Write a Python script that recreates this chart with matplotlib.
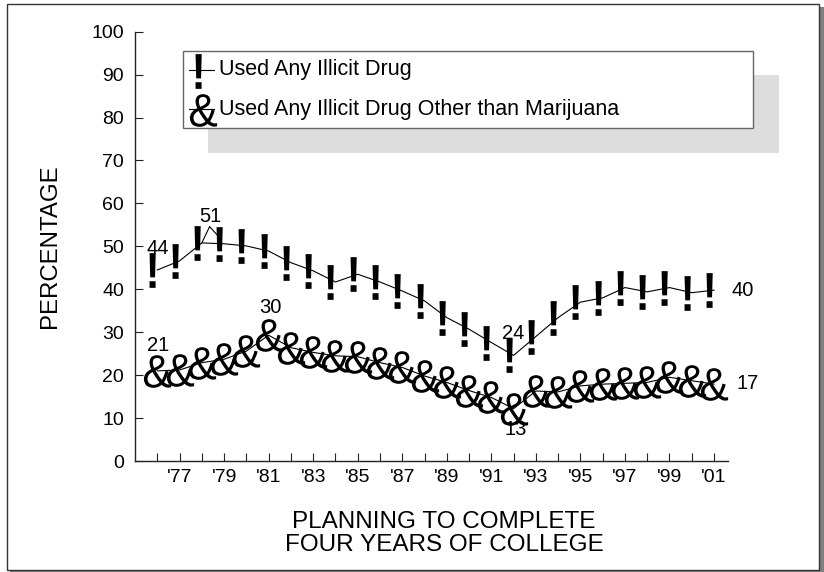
import numpy as np
import matplotlib
matplotlib.use("Agg")
import matplotlib.pyplot as plt
from matplotlib.patches import Rectangle
from matplotlib.lines import Line2D
from matplotlib.textpath import TextPath
from matplotlib.path import Path
from matplotlib.font_manager import FontProperties

plt.rcParams['font.family'] = ['Liberation Sans', 'DejaVu Sans']

# ---------------- data ----------------
years = list(range(1976, 2002))
any_illicit = [44.5, 46.6, 50.8, 50.6, 50.1, 48.9, 46.2, 44.3, 41.7, 43.5,
               41.7, 39.6, 37.3, 33.4, 30.7, 27.6, 24.6, 29.0, 33.4, 37.0,
               38.0, 40.4, 39.4, 40.4, 39.2, 39.8]
other_than_mj = [21.0, 21.2, 22.9, 23.7, 25.6, 29.3, 26.4, 25.3, 24.5, 24.3,
                 22.9, 21.8, 19.8, 18.3, 16.4, 14.8, 12.2, 16.3, 16.1, 17.5,
                 17.9, 18.1, 18.3, 19.5, 18.7, 17.9]
series_names = ["Used Any Illicit Drug",
                "Used Any Illicit Drug Other than Marijuana"]
tick_years = list(range(1977, 2002, 2))
tick_labels = ["'77", "'79", "'81", "'83", "'85", "'87", "'89", "'91",
               "'93", "'95", "'97", "'99", "'01"]
# labelled points: (series index, year, text)
point_labels = [(0, 1976, "44"), (0, 1978, "51"), (0, 1992, "24"), (0, 2001, "40"),
                (1, 1976, "21"), (1, 1981, "30"), (1, 1992, "13"), (1, 2001, "17")]

W, H = 824, 572
fig = plt.figure(figsize=(W / 100, H / 100), dpi=100)


def fx(px):
    return px / W


def fy(py):
    return 1 - py / H


def glyph_path(ch, family, weight='normal', dx=0.0, sx=1.0):
    tp = TextPath((0, 0), ch, size=100,
                  prop=FontProperties(family=family, weight=weight))
    v = np.array(tp.vertices, dtype=float)
    c = np.array(tp.codes)
    start = None
    for i in range(len(c)):
        if c[i] == Path.MOVETO:
            start = v[i].copy()
        elif c[i] == Path.CLOSEPOLY and start is not None:
            v[i] = start
    real = c != Path.CLOSEPOLY
    xmin, ymin = v[real].min(0)
    xmax, ymax = v[real].max(0)
    v[:, 0] -= (xmin + xmax) / 2
    v[:, 1] -= (ymin + ymax) / 2
    v[:, 0] *= sx
    v[:, 0] += dx * (ymax - ymin)
    return Path(v, c)


bang = glyph_path("!", "Liberation Sans", "bold", dx=-0.14, sx=0.85)
amp = glyph_path("&", "Liberation Sans", "normal", sx=0.95)

# outer frame with shadow
fig.add_artist(Rectangle((fx(10), fy(575)), fx(816), 568 / H, transform=fig.transFigure,
                         facecolor='#808080', edgecolor='none', zorder=-3))
fig.add_artist(Rectangle((fx(7), fy(570)), fx(812), 566 / H, transform=fig.transFigure,
                         facecolor='white', edgecolor='#333333', lw=1.0, zorder=-2))

ax = fig.add_axes([fx(135), fy(461), (728.5 - 135) / W, (461 - 31.7) / H])
ax.set_facecolor('none')
ax.set_xlim(1975.0, 2001.65)
ax.set_ylim(0, 100)

BANG_MS = 25
AMP_MS = 23.5
ax.plot(years, any_illicit, color='black', lw=0.8, marker=bang, markersize=BANG_MS,
        markerfacecolor='black', markeredgecolor='none', zorder=3)
ax.plot(years, other_than_mj, color='black', lw=0.8, marker=amp, markersize=AMP_MS,
        markerfacecolor='black', markeredgecolor='none', zorder=3)

for sp in ['top', 'right']:
    ax.spines[sp].set_visible(False)
for sp in ['left', 'bottom']:
    ax.spines[sp].set_color('#222222')
    ax.spines[sp].set_linewidth(1.0)

ax.set_yticks(range(0, 101, 10))
ax.set_xticks(years, minor=True)
ax.set_xticks(tick_years)
ax.set_xticklabels(tick_labels)
ax.tick_params(axis='y', direction='in', length=6, width=0.8, labelsize=14,
               pad=8, colors='#222222', labelcolor='black')
ax.tick_params(axis='x', which='both', direction='in', length=6, width=0.8,
               labelsize=14, pad=6, colors='#222222', labelcolor='black')

ax.set_ylabel("PERCENTAGE", fontsize=17.3, labelpad=22)
ax.set_xlabel("PLANNING TO COMPLETE\nFOUR YEARS OF COLLEGE", fontsize=17.5,
              labelpad=18, linespacing=1.05)
ax.xaxis.label.set_x((444 - 135) / (728.5 - 135))

# point labels (pixel offsets)
offsets = {
    (0, 1976): (0, 21), (0, 1978): (9, 26), (0, 1992): (0, 22), (0, 2001): (29, 0),
    (1, 1976): (1, 25), (1, 1981): (2, 28), (1, 1992): (2, -21), (1, 2001): (34, 1),
}
series_vals = [any_illicit, other_than_mj]
for si, yr, txt in point_labels:
    val = series_vals[si][years.index(yr)]
    dx, dy = offsets[(si, yr)]
    ax.annotate(txt, (yr, val), xytext=(dx * 0.72, dy * 0.72), textcoords='offset points',
                ha='center', va='center', fontsize=14.5, zorder=4)

# leader for the 51 label
i78 = years.index(1978)
ax.annotate("", xy=(1978, any_illicit[i78]), xytext=(1978.35, any_illicit[i78] + 3.8),
            arrowprops=dict(arrowstyle='-', lw=0.8, color='black', shrinkA=0, shrinkB=0))
ax.annotate("", xy=(1978.7, any_illicit[i78] + 1.8), xytext=(1978.35, any_illicit[i78] + 3.8),
            arrowprops=dict(arrowstyle='-', lw=0.8, color='black', shrinkA=0, shrinkB=0))

# legend (manual, with offset shadow)
fig.add_artist(Rectangle((fx(208), fy(153)), (779 - 208) / W, (153 - 75) / H,
                         transform=fig.transFigure, facecolor='#dddddd',
                         edgecolor='none', zorder=5))
fig.add_artist(Rectangle((fx(183), fy(128)), (753 - 183) / W, (128 - 51) / H,
                         transform=fig.transFigure, facecolor='white',
                         edgecolor='#666666', lw=1.0, zorder=6))
leg_y = [70, 109]
leg_markers = [(bang, BANG_MS), (amp, AMP_MS)]
for (mk, ms), yy, name in zip(leg_markers, leg_y, series_names):
    fig.add_artist(Line2D([fx(189), fx(214)], [fy(yy), fy(yy)], transform=fig.transFigure,
                          color='black', lw=0.8, zorder=7))
    fig.add_artist(Line2D([fx(203)], [fy(yy + 1)], transform=fig.transFigure,
                          marker=mk, markersize=ms, markerfacecolor='black',
                          markeredgecolor='none', linestyle='none', zorder=7))
    fig.text(fx(219), fy(yy), name, fontsize=15.5, ha='left', va='center', zorder=8)

fig.savefig("out.png", dpi=100)
